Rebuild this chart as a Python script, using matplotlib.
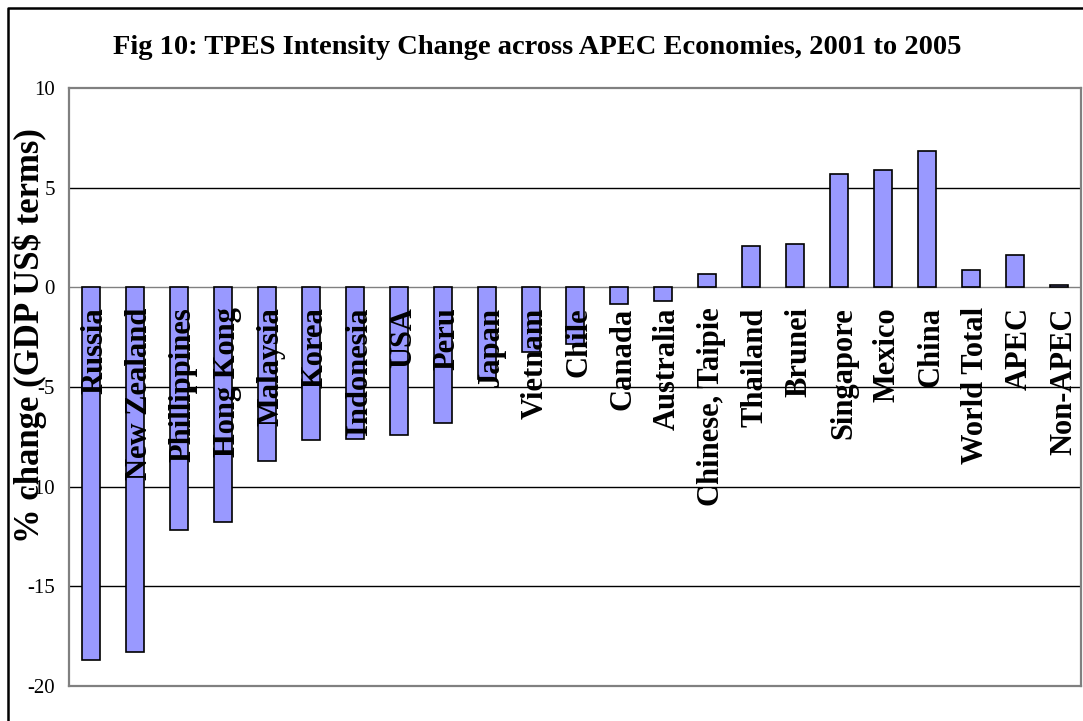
import matplotlib
matplotlib.use("Agg")
import matplotlib.pyplot as plt
from matplotlib.lines import Line2D
import numpy as np

# economies and % change of TPES intensity, 2001 to 2005
economies = ["Russia", "New Zealand", "Phillippines", "Hong Kong", "Malaysia",
             "Korea", "Indonesia", "USA", "Peru", "Japan", "Vietnam", "Chile",
             "Canada", "Australia", "Chinese, Taipie", "Thailand", "Brunei",
             "Singapore", "Mexico", "China", "World Total", "APEC", "Non-APEC"]
changes = [-18.7, -18.3, -12.15, -11.75, -8.7, -7.65, -7.6, -7.4, -6.8, -4.6,
           -3.25, -2.85, -0.85, -0.7, 0.65, 2.05, 2.15, 5.7, 5.9, 6.85,
           0.85, 1.6, 0.1]
y_ticks = [-20, -15, -10, -5, 0, 5, 10]

title = "Fig 10: TPES Intensity Change across APEC Economies, 2001 to 2005"
y_label = "% change (GDP US$ terms)"

serif = ["Liberation Serif", "DejaVu Serif"]

fig = plt.figure(figsize=(10.83, 7.21), dpi=100)
ax = fig.add_axes([69 / 1083, 1 - 686 / 721, (1081 - 69) / 1083, (686 - 88) / 721])

x = np.arange(len(economies))
ax.bar(x, changes, width=0.43, color="#9999FF", edgecolor="black",
       linewidth=1.2, zorder=3)

# horizontal grid lines
for t in y_ticks[1:-1]:
    ax.axhline(t, color="#808080" if t == 0 else "black", linewidth=1.0, zorder=1)

# category labels sit just under the zero line
for xi, name in zip(x, economies):
    ax.text(xi + 0.1, -1.0, name, rotation=90, ha="center", va="top",
            fontsize=22, fontweight="bold", family=serif, zorder=5)

ax.set_xlim(-0.5, len(economies) - 0.5)
ax.set_ylim(-20, 10)
ax.set_xticks([])
ax.set_yticks(y_ticks)
ax.set_yticklabels([str(t) for t in y_ticks], family=serif, fontsize=15)
ax.tick_params(axis="y", length=0, pad=10)
for side in ["left", "top", "right", "bottom"]:
    ax.spines[side].set_color("#808080")
    ax.spines[side].set_linewidth(1.6)

fig.text(537 / 1083, 1 - 47 / 721, title, ha="center", va="center",
         fontsize=20.5, fontweight="bold", family=serif)
fig.text(30 / 1083, 1 - 336 / 721, y_label, rotation=90, ha="center",
         va="center", fontsize=25, fontweight="bold", family=serif)

# outer chart border (left and top edges only)
fig.add_artist(Line2D([7.5 / 1083, 7.5 / 1083, 1.0], [0.0, 1 - 7.5 / 721, 1 - 7.5 / 721],
                      transform=fig.transFigure, color="black", linewidth=1.8))

fig.savefig("out.png", dpi=100, facecolor="white")
